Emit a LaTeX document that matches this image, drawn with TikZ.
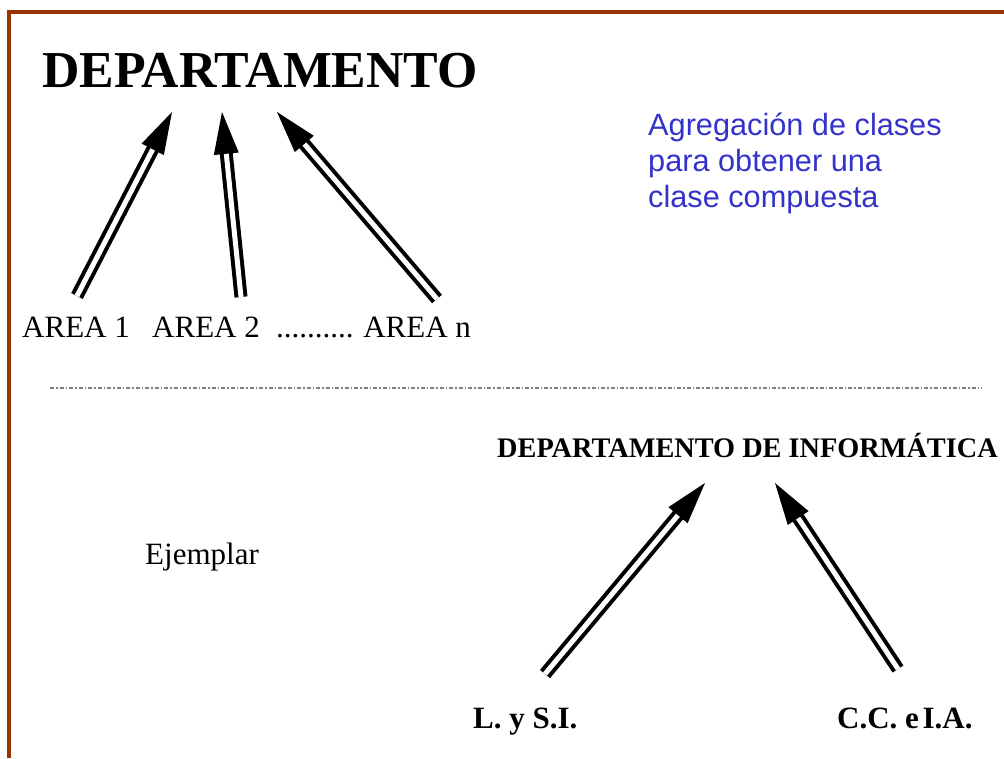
\documentclass[tikz,border=0pt]{standalone}
\usepackage{fontspec}
\setmainfont{Liberation Serif}
\newfontfamily\notefont{Liberation Sans}
\usetikzlibrary{calc}
\definecolor{framebrown}{HTML}{993300}
\definecolor{noteblue}{HTML}{3333CC}
\newcommand\aggarrow[2]{%
  \draw[shaft] (#1) -- ($(#2)!40pt!(#1)$);
  \fill[black] ($(#2)!42pt!(#1)!12.5pt!90:(#1)$) -- (#2) -- ($(#2)!42pt!(#1)!12.5pt!-90:(#1)$) -- cycle;}
\begin{document}
\begin{tikzpicture}[x=1pt,y=-1pt,
  lbl/.style={anchor=base west, inner sep=0pt},
  shaft/.style={draw=black, line width=4pt, double=white, double distance=5pt},
  bigbold/.style={font=\bfseries\fontsize{51.8}{60}\selectfont},
  midbold/.style={font=\bfseries\fontsize{28.3}{34}\selectfont},
  labbold/.style={font=\bfseries\fontsize{31}{37}\selectfont},
  plain/.style={font=\fontsize{31}{37}\selectfont},
  note/.style={font=\notefont\fontsize{30.7}{36}\selectfont, text=noteblue}]
\useasboundingbox (0,0) rectangle (1004,758);
\fill[white] (0,0) rectangle (1004,758);
% frame
\draw[draw=framebrown, line width=4pt, line join=miter] (9,758) -- (9,12) -- (1004,12);
% upper part
\node[lbl, bigbold] (dep) at (42,87) {DEPARTAMENTO};
\node[lbl, note] (n1) at (648,135) {Agregación de clases};
\node[lbl, note] (n2) at (648,171) {para obtener una};
\node[lbl, note] (n3) at (648,207) {clase compuesta};
\node[lbl, plain] (areas) at (22,337) {AREA 1\hspace{22.4pt}AREA 2\hspace{16.4pt}..........\hspace{9.5pt}AREA n};
\coordinate (a1s) at (77,296);  \coordinate (a1e) at (172,112);
\coordinate (a2s) at (241,297); \coordinate (a2e) at (222,112);
\coordinate (a3s) at (437,299); \coordinate (a3e) at (277,112);
\aggarrow{a1s}{a1e}
\aggarrow{a2s}{a2e}
\aggarrow{a3s}{a3e}
% separator
\draw[gray, line width=1.2pt, dash pattern=on 4pt off 2pt on 1.5pt off 2pt] (50,388) -- (982,388);
% lower part
\node[lbl, midbold] (depinf) at (497,457) {DEPARTAMENTO DE INFORMÁTICA};
\node[lbl, plain] (ejem) at (145,564) {Ejemplar};
\node[lbl, labbold] (lsi) at (473,728) {L. y S.I.};
\node[lbl, labbold] (ccia) at (837,728) {C.C. e\hspace{0.12em}I.A.};
\coordinate (b1s) at (545,674); \coordinate (b1e) at (705,483);
\coordinate (b2s) at (898,669); \coordinate (b2e) at (775,483);
\aggarrow{b1s}{b1e}
\aggarrow{b2s}{b2e}
\end{tikzpicture}
\end{document}
